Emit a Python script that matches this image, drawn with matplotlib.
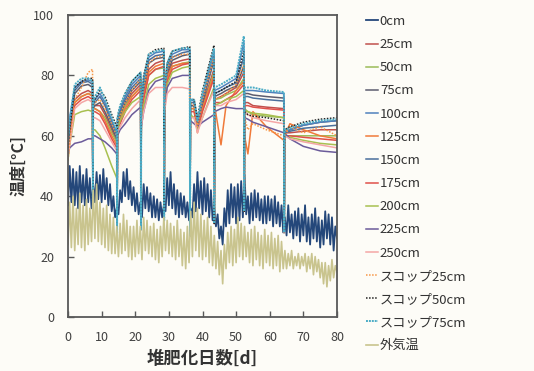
import matplotlib
matplotlib.use('Agg')
import matplotlib.pyplot as plt
import numpy as np

plt.rcParams['font.family'] = ['Noto Sans CJK JP', 'DejaVu Sans']

# surface (0cm) and air temperature, read every half day
half_days = np.arange(0, 80.5, 0.5)

temp_0cm = [37, 50, 38, 49, 37, 48, 36, 50, 38, 47, 37, 49, 38, 46, 36, 44, 38, 48, 39, 47,
            38, 49, 39, 46, 37, 44, 35, 40, 33, 36, 34, 42, 38, 48, 40, 49, 39, 45, 37, 43,
            35, 41, 34, 38, 33, 44, 36, 43, 35, 41, 33, 40, 33, 39, 32, 38, 33, 37, 35, 46,
            37, 48, 36, 44, 34, 42, 33, 41, 34, 40, 33, 38, 32, 36, 33, 44, 35, 48, 36, 45,
            34, 46, 35, 44, 33, 42, 32, 36, 30, 34, 26, 30, 24, 36, 30, 42, 31, 44, 33, 43,
            31, 44, 32, 45, 33, 47, 34, 40, 31, 41, 32, 42, 33, 41, 32, 39, 31, 40, 31, 40,
            32, 39, 30, 40, 31, 38, 30, 37, 28, 33, 27, 37, 28, 34, 26, 35, 27, 36, 25, 34,
            27, 37, 25, 33, 24, 34, 26, 36, 25, 33, 23, 32, 24, 35, 26, 34, 24, 33, 22, 30, 26]

temp_air = [24, 38, 23, 40, 22, 36, 24, 41, 23, 37, 22, 39, 24, 36, 25, 42, 26, 44, 25, 38,
            24, 36, 23, 37, 22, 34, 21, 33, 21, 30, 20, 31, 21, 34, 22, 32, 20, 30, 19, 30,
            20, 32, 21, 30, 19, 33, 22, 32, 21, 30, 20, 31, 19, 29, 18, 30, 20, 33, 22, 32,
            21, 31, 20, 30, 19, 32, 20, 29, 17, 28, 16, 30, 18, 35, 20, 38, 22, 36, 20, 34,
            19, 32, 20, 33, 18, 30, 17, 27, 16, 25, 14, 22, 11, 24, 16, 28, 18, 30, 17, 29,
            18, 33, 20, 31, 19, 30, 20, 28, 18, 29, 17, 30, 19, 28, 17, 27, 16, 29, 18, 27,
            17, 28, 16, 26, 17, 27, 15, 25, 16, 22, 16, 21, 17, 22, 16, 20, 17, 21, 16, 20,
            17, 21, 15, 20, 16, 21, 14, 20, 15, 19, 13, 18, 11, 18, 10, 17, 12, 19, 13, 17, 15]

# pile probes, read at key days (turning days drop to ambient)
pile_days = [0, 0.5, 2, 4, 6, 7.3, 7.4,
             7.5, 8, 9.5, 11, 13, 14.5, 14.6,
             14.7, 15.5, 17, 19, 21.6, 21.7,
             21.8, 22.5, 24, 26, 28.5, 28.6,
             28.7, 29.5, 31, 34, 36.2, 36.3,
             36.4, 37.5, 38.5, 40, 43.4, 43.5,
             43.6, 45.5, 47, 50, 52.3, 52.4,
             52.5, 53.5, 55, 59, 64.2, 64.3,
             64.4, 66, 70, 75, 80]

t25 = [54, 60, 72, 74, 75, 74, 38,
       70, 70, 70, 67, 62, 58, 27,
       63, 66, 70, 74, 77, 29,
       67, 74, 82, 84, 85, 32,
       72, 80, 84, 85, 85.5, 27,
       70, 70, 62, 70, 82, 31,
       72, 73, 74, 76, 81, 35,
       71, 71, 70, 69.5, 69, 28,
       61, 61, 61.5, 62, 62]
t50 = [54, 59, 71, 73, 74, 73.5, 38,
       69, 69, 68, 66, 61, 58, 27,
       63, 66, 70, 73, 76, 29,
       66, 73, 80, 82, 82.5, 32,
       71, 79, 83, 84, 84.5, 27,
       69, 69, 62, 69, 81, 31,
       72, 72.5, 73.5, 75, 79, 35,
       69, 68, 67, 66.5, 66, 28,
       60, 60, 60, 60, 60]
t75 = [55, 61, 74, 76.5, 77, 76, 38,
       69, 70, 71, 68, 63, 59, 27,
       63, 67, 71, 75, 78, 29,
       67, 75, 84, 85.5, 86, 32,
       72, 81, 85, 86.5, 87, 27,
       70, 70, 63, 71, 85, 31,
       73, 74, 75, 76.5, 83, 35,
       74, 74, 73.5, 73, 72.5, 28,
       61, 62, 63.5, 64.5, 65]
t100 = [60, 66, 76, 78, 78.5, 78, 38,
        70, 72, 74, 71, 65, 61, 27,
        65, 69, 73, 77, 80, 29,
        69, 78, 86, 87.5, 88, 32,
        74, 83, 87, 88.5, 88.5, 27,
        72, 71.5, 64, 73, 88, 31,
        75, 76, 77, 79, 91, 35,
        75, 75, 75, 74.5, 74, 28,
        61, 62, 63.5, 64.5, 65]
t125 = [55, 60, 71, 73, 74, 73, 38,
        69, 69, 68, 65, 60, 57, 27,
        62, 65, 69, 73, 76, 29,
        66, 73, 81, 83, 84, 32,
        71, 79, 83, 84, 84, 27,
        69, 69, 61, 69, 80, 31,
        70, 57, 70, 75, 78, 35,
        60, 54, 68, 63, 58.5, 28,
        60, 64, 62, 60, 59]
t150 = [57, 63, 75, 77.5, 78, 77, 38,
        70, 71, 73, 70, 64, 60, 27,
        64, 68, 72, 76, 79, 29,
        68, 76, 85, 86.5, 87, 32,
        73, 82, 86, 87.5, 88, 27,
        71, 71, 63, 72, 86, 31,
        74, 75, 76, 77.5, 86, 35,
        73, 73, 72.5, 72, 71.5, 28,
        61, 61.5, 62.5, 63, 63.5]
t175 = [53, 58, 70, 72, 73, 72, 38,
        68, 68, 67, 64, 59, 56, 27,
        62, 64, 68, 72, 75, 29,
        65, 72, 80, 82, 83, 32,
        70, 78, 82, 83.5, 84, 27,
        68, 68, 62, 68, 79, 31,
        71, 71, 72, 74, 77, 35,
        70, 70, 69.5, 69, 68.5, 28,
        60, 60, 59.5, 59, 58.5]
t200 = [52, 57, 67, 68, 68.5, 68, 38,
        62, 62, 60, 56, 50, 46, 27,
        62, 65, 68, 71, 73, 29,
        64, 70, 77, 79, 80, 32,
        70, 77, 81, 82.5, 83, 27,
        67, 66, 62, 66, 76, 31,
        70, 71, 72, 73, 75, 35,
        68, 68, 67.5, 67, 66, 28,
        60, 59.5, 58.5, 57.5, 57]
t225 = [54, 56, 57.5, 58, 59, 59, 38,
        60, 60, 59, 58, 56, 54, 27,
        60, 62, 64, 67, 69.5, 29,
        63, 68, 75, 78, 79, 32,
        69, 76, 79, 80, 80, 27,
        65, 64, 63, 64.5, 67, 31,
        68, 69, 69.5, 69, 69, 35,
        66, 65.5, 64.5, 63, 61, 28,
        61, 59, 56.5, 55, 54.5]
t250 = [53, 57, 69, 71, 72, 71, 38,
        66, 66, 65, 62, 58, 55, 27,
        61, 63, 66, 69, 72, 29,
        63, 68, 74, 76, 76, 32,
        68, 74, 76, 76, 75.5, 27,
        66, 66, 61, 66, 75, 31,
        70, 70, 71, 72, 74, 35,
        68, 67, 66, 65, 64, 28,
        60, 59, 58, 57, 56]
scoop25 = [52, 58, 72, 76, 81, 82, 38,
           70, 71, 72, 69, 64, 60, 27,
           64, 67, 71, 75, 79, 29,
           68, 76, 84, 86, 86.5, 32,
           73, 82, 86, 87, 87, 27,
           71, 70, 63, 72, 86, 31,
           72, 73, 74, 77, 84, 35,
           66, 62, 64, 62, 60, 28,
           60, 63, 61, 63, 60]
scoop50 = [56, 62, 76, 78, 79, 79, 38,
           71, 72, 75, 73, 67, 63, 27,
           66, 70, 74, 78, 81, 29,
           70, 80, 87, 88.5, 89, 32,
           76, 84, 88, 89, 89.5, 27,
           72, 72, 66, 75, 90, 31,
           74, 75, 76, 78, 88, 35,
           68, 67, 66.5, 66, 65, 28,
           62, 63, 64.5, 65.5, 66]
scoop75 = [58, 65, 77, 79, 79, 78, 38,
           71, 73, 76, 72, 66, 62, 27,
           66, 70, 74, 78, 81, 29,
           70, 79, 87, 88, 88.5, 32,
           75, 84, 88, 89, 89, 27,
           72, 72, 65, 74, 89, 31,
           76, 77, 78, 80, 93, 35,
           76, 76, 76, 75, 74.5, 28,
           62, 62.5, 64, 65, 65.5]

fig = plt.figure(figsize=(5.34, 3.71), dpi=100, facecolor='#fdfcf7')
ax = fig.add_axes([68/534, 1 - 317/371, 269/534, 302/371])
ax.set_facecolor('#fdfcf7')

ax.plot(half_days, temp_0cm, color='#24477a', lw=1.3, label='0cm')
ax.plot(pile_days, t25, color='#c0504d', lw=1.1, label='25cm')
ax.plot(pile_days, t50, color='#9bbb59', lw=1.1, label='50cm')
ax.plot(pile_days, t75, color='#5c5c6e', lw=1.1, label='75cm')
ax.plot(pile_days, t100, color='#4f81bd', lw=1.1, label='100cm')
ax.plot(pile_days, t125, color='#f07a3a', lw=1.1, label='125cm')
ax.plot(pile_days, t150, color='#4a6f9c', lw=1.1, label='150cm')
ax.plot(pile_days, t175, color='#e0504a', lw=1.1, label='175cm')
ax.plot(pile_days, t200, color='#a8c050', lw=1.1, label='200cm')
ax.plot(pile_days, t225, color='#6b5b9a', lw=1.1, label='225cm')
ax.plot(pile_days, t250, color='#f4a6a6', lw=1.1, label='250cm')
ax.plot(pile_days, scoop25, color='#f79646', lw=1.1, ls=(0, (1, 1)), label='スコップ25cm')
ax.plot(pile_days, scoop50, color='#222222', lw=1.1, ls=(0, (1, 1)), label='スコップ50cm')
ax.plot(pile_days, scoop75, color='#4bacc6', lw=1.4, ls=(0, (1, 0.5)), label='スコップ75cm')
ax.plot(half_days, temp_air, color='#c9c48e', lw=1.2, label='外気温')

ax.set_xlim(0, 80)
ax.set_ylim(0, 100)
ax.set_xticks(range(0, 81, 10))
ax.set_yticks(range(0, 101, 20))
ax.tick_params(direction='in', length=4, width=1, colors='#595959', labelcolor='#404040',
               labelsize=9, pad=10)
for s in ax.spines.values():
    s.set_color('#595959')
    s.set_linewidth(1.3)

ax.set_xlabel('堆肥化日数[d]', fontsize=12.5, fontweight='bold', color='#333333', labelpad=4)
ax.set_ylabel('温度[°C]', fontsize=11.5, fontweight='bold', color='#333333', labelpad=5)

fig.legend(loc='upper left', bbox_to_anchor=(366/534, 1 - 15/371), frameon=False,
           fontsize=9.5, labelspacing=0.77, handlelength=0.9, handletextpad=0.15,
           labelcolor='#333333', borderaxespad=0, borderpad=0)

fig.savefig('out.png', dpi=100, facecolor=fig.get_facecolor())
